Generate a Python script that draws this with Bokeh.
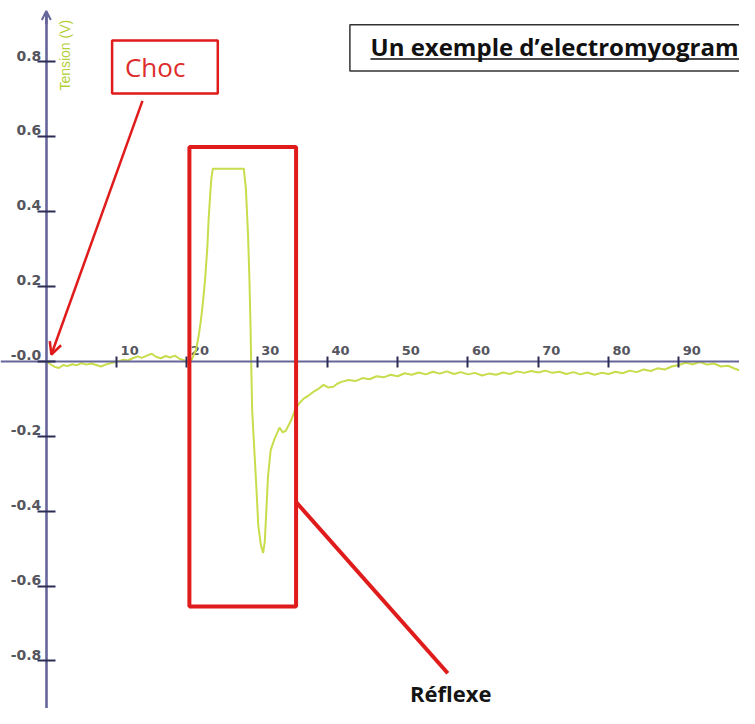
import math
from bokeh.plotting import figure
from bokeh.models import (Range1d, LinearAxis, FixedTicker, Arrow, OpenHead,
                          BoxAnnotation, Label, ColumnDataSource)
from bokeh.core.properties import value
from bokeh.embed import file_html
from bokeh.resources import INLINE

# ---------------- data ----------------
baseline_t = [0.0, 0.6, 1.2, 1.8, 2.4, 3.0, 3.7, 4.3, 5.0, 5.7,
              6.4, 7.1, 7.8, 8.4, 9.0, 9.7, 10.3, 11.0, 11.6, 12.3,
              13.0, 13.6, 14.3, 15.0, 15.6, 16.3, 17.0, 17.6, 18.3, 19.0,
              19.6, 20.2]
baseline_v = [0.000, -0.008, -0.015, -0.018, -0.010, -0.013, -0.008, -0.011, -0.005, -0.009,
              -0.006, -0.010, -0.014, -0.009, -0.006, -0.003, 0.000, 0.004, 0.002, 0.008,
              0.013, 0.009, 0.015, 0.020, 0.012, 0.008, 0.014, 0.010, 0.015, 0.006,
              0.003, -0.006]

rise_t = [20.7, 21.3, 21.7, 22.0, 22.3, 22.6, 22.9, 23.1, 23.3, 23.5, 23.7]
rise_v = [0.005, 0.030, 0.070, 0.110, 0.160, 0.220, 0.300, 0.380, 0.440, 0.490, 0.514]

plateau_t = [24.6, 25.8, 27.0, 28.1]
plateau_v = [0.514, 0.514, 0.514, 0.514]

fall_t = [28.4, 28.7, 28.9, 29.05, 29.15, 29.3, 29.55, 29.93, 30.16, 30.53,
          30.85, 31.09, 31.32, 31.55, 31.92, 32.48, 33.18, 33.64, 34.1, 34.8,
          35.5, 36.1, 36.66, 37.3, 38.05, 38.7, 39.44, 40.1, 40.83, 41.4,
          41.99]
fall_v = [0.460, 0.340, 0.220, 0.100, 0.000, -0.133, -0.220, -0.351, -0.438, -0.490,
          -0.512, -0.481, -0.394, -0.307, -0.238, -0.207, -0.177, -0.190, -0.185, -0.159,
          -0.125, -0.110, -0.099, -0.092, -0.081, -0.074, -0.063, -0.070, -0.068, -0.060,
          -0.055]

tail_t = [43, 44, 45, 46, 47, 48, 49, 50, 51, 52,
          53, 54, 55, 56, 57, 58, 59, 60, 61, 62,
          63, 64, 65, 66, 67, 68, 69, 70, 71, 72,
          73, 74, 75, 76, 77, 78, 79, 80, 81, 82,
          83, 84, 85, 86, 87, 88, 89, 90, 91, 92,
          93, 94, 95, 96, 97, 98, 98.6]
tail_v = [-0.050, -0.053, -0.045, -0.048, -0.040, -0.043, -0.036, -0.040, -0.032, -0.036,
          -0.030, -0.035, -0.028, -0.033, -0.027, -0.034, -0.029, -0.035, -0.031, -0.038,
          -0.033, -0.036, -0.030, -0.034, -0.027, -0.031, -0.026, -0.030, -0.025, -0.031,
          -0.028, -0.034, -0.029, -0.035, -0.030, -0.036, -0.031, -0.034, -0.028, -0.032,
          -0.025, -0.029, -0.022, -0.026, -0.019, -0.022, -0.014, -0.010, -0.004, -0.008,
          -0.002, -0.009, -0.006, -0.014, -0.012, -0.020, -0.024]

x_ticks = [10, 20, 30, 40, 50, 60, 70, 80, 90]
x_tick_labels = ["10", "20", "30", "40", "50", "60", "70", "80", "90"]
y_ticks = [0.8, 0.6, 0.4, 0.2, 0.0, -0.2, -0.4, -0.6, -0.8]
y_tick_labels = ["0.8", "0.6", "0.4", "0.2", "-0.0", "-0.2", "-0.4", "-0.6", "-0.8"]

time_ms = baseline_t + rise_t + plateau_t + fall_t + tail_t
tension_v = baseline_v + rise_v + plateau_v + fall_v + tail_v
assert len(time_ms) == len(tension_v)

# ---------------- styles ----------------
X0, X1 = -6.52, 98.64
Y0, Y1 = -0.927, 0.963
TRACE = "#c8dc4c"
AXIS = "#66669a"
TICK = "#2c2c55"
LABEL = "#55555e"
RED = "#e01b1b"

p = figure(width=739, height=708, x_range=Range1d(X0, X1), y_range=Range1d(Y0, Y1),
           output_backend="svg", toolbar_location=None,
           x_axis_location=None, y_axis_location=None, min_border=0)
p.outline_line_color = None
p.xgrid.visible = False
p.ygrid.visible = False
p.background_fill_color = "white"
p.border_fill_color = "white"

# axes through the origin
xaxis = LinearAxis(fixed_location=0, ticker=FixedTicker(ticks=x_ticks),
                   major_label_overrides={t: "" for t in x_ticks},
                   axis_line_color=AXIS, axis_line_width=2.2,
                   major_tick_line_color=TICK, major_tick_line_width=2,
                   major_tick_in=5, major_tick_out=6, minor_tick_line_color=None)
p.add_layout(xaxis, "below")
yaxis = LinearAxis(fixed_location=0, ticker=FixedTicker(ticks=y_ticks),
                   major_label_overrides={t: "" for t in y_ticks},
                   bounds=(Y0, 0.93),
                   axis_line_color=AXIS, axis_line_width=2.6,
                   major_tick_line_color=TICK, major_tick_line_width=2,
                   major_tick_in=9, major_tick_out=9, minor_tick_line_color=None)
p.add_layout(yaxis, "left")
p.add_layout(Arrow(x_start=0, y_start=0.90, x_end=0, y_end=0.935,
                   line_color=AXIS, line_width=2.6,
                   end=OpenHead(size=9, line_color=AXIS, line_width=2)))

# tick labels
xsrc = ColumnDataSource(dict(x=x_ticks, y=[0] * len(x_ticks), t=x_tick_labels))
p.text(x="x", y="y", text="t", source=xsrc, x_offset=4, y_offset=-11,
       text_align="left", text_baseline="middle",
       text_font=value("DejaVu Sans"), text_font_style="bold",
       text_font_size="13px", text_color=LABEL)
ysrc = ColumnDataSource(dict(x=[0] * len(y_ticks), y=y_ticks, t=y_tick_labels))
p.text(x="x", y="y", text="t", source=ysrc, x_offset=-5, y_offset=-6,
       text_align="right", text_baseline="middle",
       text_font=value("DejaVu Sans"), text_font_style="bold",
       text_font_size="14px", text_color=LABEL)

p.add_layout(Label(x=2.67, y=0.817, text="Tension (V)", angle=math.pi / 2,
                   text_align="center", text_baseline="middle",
                   text_font="Liberation Sans", text_font_size="14px",
                   text_color="#b4cf3a"))

# trace
p.line(time_ms, tension_v, line_color=TRACE, line_width=2)

# annotations
p.add_layout(BoxAnnotation(left=9.36, right=24.4, top=0.856, bottom=0.715,
                           fill_color=None, line_color=RED, line_alpha=1,
                           line_width=2.5))
p.add_layout(Label(x=15.49, y=0.786, text="Choc", text_align="center",
                   text_baseline="middle", text_font="Open Sans",
                   text_font_size="26px", text_color="#dd2c2c"))
p.add_layout(Arrow(x_start=13.68, y_start=0.695, x_end=0.72, y_end=0.018,
                   line_color=RED, line_width=2.5,
                   end=OpenHead(size=12, line_color=RED, line_width=2.5)))

p.add_layout(BoxAnnotation(left=20.36, right=35.54, top=0.572, bottom=-0.655,
                           fill_color=None, line_color=RED, line_alpha=1,
                           line_width=4))
p.add_layout(Arrow(x_start=35.54, y_start=-0.376, x_end=57.13, y_end=-0.833,
                   line_color=RED, line_width=4, end=None))
p.add_layout(Label(x=57.55, y=-0.885, text="Réflexe", text_align="center",
                   text_baseline="middle", text_font="Open Sans",
                   text_font_style="bold", text_font_size="22px",
                   text_color="#141414"))

p.add_layout(BoxAnnotation(left=43.2, right=110, top=0.898, bottom=0.775,
                           fill_color=None, line_color="#333333", line_alpha=1,
                           line_width=1.5))
p.add_layout(Label(x=46.13, y=0.839, text="Un exemple d’electromyogram",
                   text_align="left", text_baseline="middle",
                   text_font="Open Sans", text_font_style="bold",
                   text_font_size="24px", text_color="#111111"))
p.add_layout(Arrow(x_start=46.13, y_start=0.807, x_end=110, y_end=0.807,
                   line_color="#111111", line_width=1.5, end=None))

open("out.html", "w").write(file_html(p, INLINE))
